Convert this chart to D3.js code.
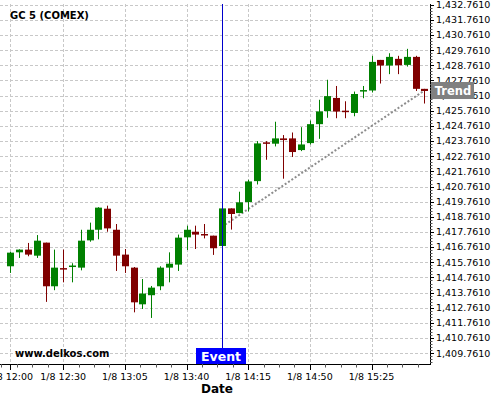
<!DOCTYPE html>
<html>
<head>
<meta charset="utf-8">
<script src="https://cdn.jsdelivr.net/npm/d3@7"></script>
<style>
body { margin: 0; background: #fff; }
svg { display: block; font-family: "DejaVu Sans", sans-serif; }
</style>
</head>
<body>
<script>
// candle times (1/8), 5 minute bars
const times = ["12:00","12:05","12:10","12:15","12:20","12:25","12:30","12:35","12:40","12:45","12:50","12:55",
  "13:00","13:05","13:10","13:15","13:20","13:25","13:30","13:35","13:40","13:45","13:50","13:55",
  "14:00","14:05","14:10","14:15","14:20","14:25","14:30","14:35","14:40","14:45","14:50","14:55",
  "15:00","15:05","15:10","15:15","15:20","15:25","15:30","15:35","15:40","15:45","15:50","15:55"];
const open = [1415.50,1416.42,1416.60,1416.20,1417.06,1414.18,1415.33,1415.46,1415.41,1417.21,1417.91,1419.30,
  1417.91,1416.27,1415.41,1412.99,1413.59,1414.18,1415.41,1415.61,1417.41,1417.78,1417.58,1417.52,
  1416.84,1419.32,1419.01,1419.74,1421.12,1423.63,1423.59,1423.94,1423.94,1423.17,1423.63,1424.88,
  1425.74,1426.61,1425.72,1425.62,1427.06,1427.10,1429.12,1428.75,1429.19,1428.79,1429.32,1427.21];
const high = [1416.45,1416.62,1417.04,1417.56,1417.06,1416.60,1416.60,1415.70,1417.91,1418.38,1419.40,1419.50,
  1418.29,1416.64,1415.45,1414.66,1414.20,1415.50,1416.42,1417.59,1418.18,1418.18,1418.29,1417.52,
  1419.32,1419.32,1420.42,1421.21,1423.76,1423.76,1425.04,1424.16,1424.33,1424.68,1425.12,1426.49,
  1427.81,1427.40,1426.39,1427.03,1427.40,1429.39,1429.12,1429.56,1429.39,1429.85,1429.39,1427.21];
const low = [1415.06,1416.05,1416.16,1416.05,1413.15,1413.92,1414.44,1414.44,1415.23,1417.12,1417.28,1417.78,
  1415.19,1415.06,1412.46,1412.68,1412.09,1413.92,1414.44,1415.19,1416.57,1416.64,1417.34,1416.25,
  1416.84,1417.92,1419.00,1419.12,1420.90,1422.53,1423.41,1421.28,1422.71,1423.10,1423.54,1423.91,
  1425.30,1425.27,1425.27,1425.40,1426.59,1426.97,1427.56,1428.18,1428.18,1428.68,1427.07,1426.24];
const close = [1416.40,1416.60,1416.27,1417.19,1414.18,1415.41,1415.28,1415.50,1417.19,1417.91,1419.37,1418.00,
  1416.20,1415.50,1413.12,1413.70,1414.09,1415.41,1415.67,1417.39,1417.91,1417.59,1417.54,1416.69,
  1419.32,1418.95,1419.72,1421.10,1423.61,1423.58,1423.94,1423.83,1423.04,1423.54,1424.88,1425.72,
  1426.73,1425.71,1425.68,1426.87,1427.08,1428.99,1428.75,1429.32,1428.77,1429.32,1427.21,1427.07];

const xTickTimes = ["12:00","12:30","13:05","13:40","14:15","14:50","15:25"];
const yTicks = [1409.761,1410.761,1411.761,1412.761,1413.761,1414.761,1415.761,1416.761,1417.761,1418.761,
  1419.761,1420.761,1421.761,1422.761,1423.761,1424.761,1425.761,1426.761,1427.761,1428.761,
  1429.761,1430.761,1431.761,1432.761];

const eventTime = "14:00";
const trendTimes = ["14:00","15:55"];
const trendPrices = [1418.1,1427.1];

const W = 500, H = 400;
const plotRight = 430, plotTop = 4, plotBottom = 364;

function t(s) {
  const p = s.split(":");
  return new Date(2013, 0, 8, +p[0], +p[1], p[2] ? +p[2] : 0);
}

const data = times.map((d, i) => ({ t: t(d), o: open[i], h: high[i], l: low[i], c: close[i] }));

const x = d3.scaleTime()
  .domain([t("11:54:09"), t("15:58:12")])
  .range([0, plotRight]);
const y = d3.scaleLinear()
  .domain([1409.05, 1432.81])
  .range([plotBottom, plotTop]);

const svg = d3.select("body").append("svg")
  .attr("width", W).attr("height", H);

// grid
const grid = svg.append("g").attr("stroke", "#c8c8c8").attr("stroke-dasharray", "3,2").attr("stroke-width", 1);
grid.selectAll("line.h").data(yTicks).enter().append("line")
  .attr("x1", 0).attr("x2", plotRight)
  .attr("y1", d => Math.round(y(d)) + 0.5).attr("y2", d => Math.round(y(d)) + 0.5);
grid.selectAll("line.v").data(xTickTimes).enter().append("line")
  .attr("x1", d => Math.round(x(t(d))) + 0.5).attr("x2", d => Math.round(x(t(d))) + 0.5)
  .attr("y1", plotTop).attr("y2", plotBottom);

// trend line
svg.append("line")
  .attr("x1", x(t(trendTimes[0]))).attr("y1", y(trendPrices[0]))
  .attr("x2", x(t(trendTimes[1]))).attr("y2", y(trendPrices[1]))
  .attr("stroke", "#8c8c8c").attr("stroke-width", 2).attr("stroke-dasharray", "2,2");

// candles
const candles = svg.append("g");
const cg = candles.selectAll("g").data(data).enter().append("g")
  .attr("fill", d => d.c >= d.o ? "#008000" : "#800000")
  .attr("stroke", d => d.c >= d.o ? "#008000" : "#800000");
cg.append("line")
  .attr("x1", d => Math.round(x(d.t)) + 0.5).attr("x2", d => Math.round(x(d.t)) + 0.5)
  .attr("y1", d => y(d.h)).attr("y2", d => y(d.l))
  .attr("stroke-width", 1);
cg.append("rect")
  .attr("stroke", "none")
  .attr("x", d => Math.round(x(d.t)) - 3)
  .attr("width", 7)
  .attr("y", d => Math.min(y(d.o), y(d.c)) - (Math.abs(y(d.o) - y(d.c)) < 1.5 ? 0.75 : 0))
  .attr("height", d => Math.max(1.5, Math.abs(y(d.o) - y(d.c))));

// event line
const ex = Math.round(x(t(eventTime))) + 0.5;
svg.append("line")
  .attr("x1", ex).attr("x2", ex).attr("y1", plotTop).attr("y2", 348)
  .attr("stroke", "#0000cc").attr("stroke-width", 1);

// right axis
const ax = svg.append("g").attr("stroke", "#000");
ax.append("line").attr("x1", plotRight + 0.5).attr("x2", plotRight + 0.5)
  .attr("y1", plotTop).attr("y2", plotBottom + 1).attr("stroke-width", 1);
ax.append("line").attr("x1", 0).attr("x2", plotRight + 1)
  .attr("y1", plotBottom + 0.5).attr("y2", plotBottom + 0.5).attr("stroke-width", 1);

const yMinor = d3.range(yTicks[0] - 0.6, y.domain()[1], 0.2);
ax.selectAll("line.ym").data(yMinor).enter().append("line")
  .attr("x1", plotRight).attr("x2", plotRight + 2.5)
  .attr("y1", d => Math.round(y(d)) + 0.5).attr("y2", d => Math.round(y(d)) + 0.5)
  .attr("stroke", "#555");
ax.selectAll("line.yM").data(yTicks).enter().append("line")
  .attr("x1", plotRight).attr("x2", plotRight + 4)
  .attr("y1", d => Math.round(y(d)) + 0.5).attr("y2", d => Math.round(y(d)) + 0.5);

const fmt = d3.format(",.4f");
svg.append("g").selectAll("text").data(yTicks).enter().append("text")
  .attr("x", 436).attr("y", d => y(d)).attr("dy", "0.35em")
  .attr("font-size", "9.5px").attr("fill", "#000")
  .text(d => fmt(d));

// bottom axis ticks
const xMajor = xTickTimes.map(t);
const step = (xMajor[2] - xMajor[1]) / 4;
const xMinor = d3.range(+xMajor[1] - 8 * step, +x.domain()[1], step).map(v => new Date(v));
ax.selectAll("line.xm").data(xMinor).enter().append("line")
  .attr("x1", d => Math.round(x(d)) + 0.5).attr("x2", d => Math.round(x(d)) + 0.5)
  .attr("y1", plotBottom).attr("y2", plotBottom + 3.5)
  .attr("stroke", "#555");
ax.selectAll("line.xM").data(xMajor).enter().append("line")
  .attr("x1", d => Math.round(x(d)) + 0.5).attr("x2", d => Math.round(x(d)) + 0.5)
  .attr("y1", plotBottom).attr("y2", plotBottom + 6);

svg.append("g").selectAll("text").data(xTickTimes).enter().append("text")
  .attr("x", d => x(t(d))).attr("y", 380)
  .attr("text-anchor", "middle").attr("font-size", "9.5px").attr("fill", "#000")
  .text(d => "1/8 " + d);

// labels
svg.append("text").attr("x", 217).attr("y", 393).attr("text-anchor", "middle")
  .attr("font-size", "12px").attr("font-weight", "bold").text("Date");
svg.append("text").attr("x", 10).attr("y", 19)
  .attr("font-size", "10px").attr("font-weight", "bold").text("GC 5 (COMEX)");
svg.append("text").attr("x", 15).attr("y", 357)
  .attr("font-size", "10px").attr("font-weight", "bold").text("www.delkos.com");

// event tag
svg.append("rect").attr("x", 196).attr("y", 348).attr("width", 50).attr("height", 16).attr("fill", "#0000ff");
svg.append("text").attr("x", 221).attr("y", 361).attr("text-anchor", "middle")
  .attr("font-size", "12.5px").attr("font-weight", "bold").attr("fill", "#fff").text("Event");

// trend tag
const ty = y(trendPrices[1]);
svg.append("rect").attr("x", 431).attr("y", ty - 8.5).attr("width", 43).attr("height", 17).attr("fill", "#808080");
svg.append("text").attr("x", 453).attr("y", ty + 4.5).attr("text-anchor", "middle")
  .attr("font-size", "11.5px").attr("font-weight", "bold").attr("fill", "#fff").text("Trend");
</script>
</body>
</html>
